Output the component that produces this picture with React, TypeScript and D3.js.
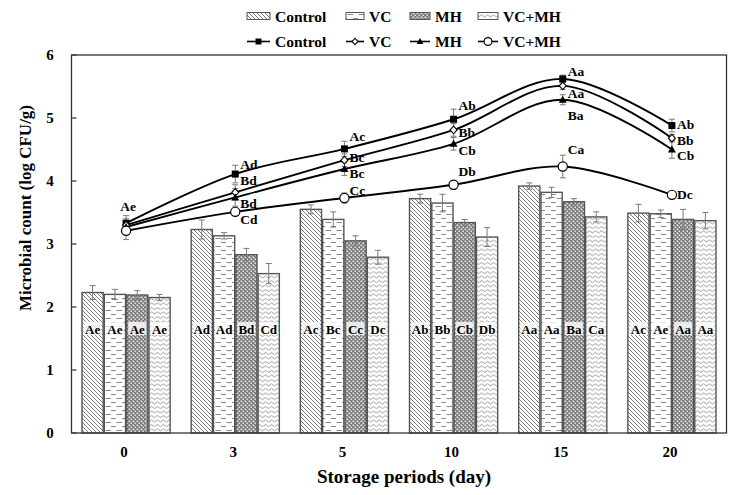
import React from "react";
import * as d3 from "d3";

// storage days and treatments
const days = ["0", "3", "5", "10", "15", "20"];
const treatments = ["Control", "VC", "MH", "VC+MH"];

// bars (left scale, log CFU/g)
const barControl = [2.23, 3.23, 3.55, 3.72, 3.92, 3.49];
const barVC = [2.2, 3.13, 3.39, 3.65, 3.82, 3.48];
const barMH = [2.19, 2.83, 3.05, 3.34, 3.67, 3.39];
const barVCMH = [2.15, 2.53, 2.79, 3.11, 3.43, 3.37];

const barErrControl = [0.11, 0.15, 0.07, 0.07, 0.05, 0.14];
const barErrVC = [0.08, 0.05, 0.12, 0.14, 0.08, 0.06];
const barErrMH = [0.07, 0.1, 0.08, 0.05, 0.05, 0.16];
const barErrVCMH = [0.05, 0.16, 0.11, 0.15, 0.08, 0.13];

const barLabControl = ["Ae", "Ad", "Ac", "Ab", "Aa", "Ac"];
const barLabVC = ["Ae", "Ad", "Bc", "Bb", "Aa", "Ae"];
const barLabMH = ["Ae", "Bd", "Cc", "Cb", "Ba", "Aa"];
const barLabVCMH = ["Ae", "Cd", "Dc", "Db", "Ca", "Aa"];

// lines
const lineControl = [3.33, 4.11, 4.51, 4.98, 5.62, 4.88];
const lineVC = [3.3, 3.82, 4.33, 4.81, 5.51, 4.68];
const lineMH = [3.27, 3.74, 4.19, 4.59, 5.29, 4.5];
const lineVCMH = [3.21, 3.51, 3.73, 3.94, 4.23, 3.78];

const lineErrControl = [0.12, 0.14, 0.12, 0.16, 0.06, 0.1];
const lineErrVC = [0.1, 0.12, 0.1, 0.1, 0.06, 0.06];
const lineErrMH = [0.1, 0.14, 0.1, 0.1, 0.08, 0.14];
const lineErrVCMH = [0.14, 0.06, 0.08, 0.07, 0.18, 0.05];

const lineLabControl = ["Ae", "Ad", "Ac", "Ab", "Aa", "Ab"];
const lineLabVC = ["", "Bd", "Bc", "Bb", "Aa", "Bb"];
const lineLabMH = ["", "Bd", "Bc", "Cb", "Ba", "Cb"];
const lineLabVCMH = ["", "Cd", "Cc", "Db", "Ca", "Dc"];

const yTicks = [0, 1, 2, 3, 4, 5, 6];

// label nudges (px) so letters don't sit on the curves
const labelDy = [
  [-17, -10, -12, -14, -7, -1],
  [0, -12, -3, 3, 8, 2],
  [0, 6, 4, 7, 16, 6],
  [0, 8, -8, -13, -17, 0],
];

const W = 736;
const H = 495;
const margin = { top: 55, right: 9.5, bottom: 62, left: 71.5 };
const FONT = '"Liberation Serif", "Times New Roman", Times, serif';

const bars = [
  { vals: barControl, err: barErrControl, labs: barLabControl, fill: "url(#pHatch)" },
  { vals: barVC, err: barErrVC, labs: barLabVC, fill: "url(#pDash)" },
  { vals: barMH, err: barErrMH, labs: barLabMH, fill: "url(#pDots)" },
  { vals: barVCMH, err: barErrVCMH, labs: barLabVCMH, fill: "url(#pWave)" },
];
const lines = [
  { vals: lineControl, err: lineErrControl, labs: lineLabControl },
  { vals: lineVC, err: lineErrVC, labs: lineLabVC },
  { vals: lineMH, err: lineErrMH, labs: lineLabMH },
  { vals: lineVCMH, err: lineErrVCMH, labs: lineLabVCMH },
];

const Marker = ({ i, x, y, s = 1 }: { i: number; x: number; y: number; s?: number }) => {
  if (i === 0) return <rect x={x - 3.5 * s} y={y - 3.5 * s} width={7 * s} height={7 * s} fill="#000" />;
  if (i === 1)
    return (
      <path
        d={`M${x},${y - 3.8 * s}L${x + 3.5 * s},${y}L${x},${y + 3.8 * s}L${x - 3.5 * s},${y}Z`}
        fill="#fff"
        stroke="#000"
        strokeWidth={1.1}
      />
    );
  if (i === 2)
    return <path d={`M${x},${y - 4 * s}L${x + 4 * s},${y + 3 * s}L${x - 4 * s},${y + 3 * s}Z`} fill="#000" />;
  return <circle cx={x} cy={y} r={4.6 * s} fill="#fff" stroke="#000" strokeWidth={1.2} />;
};

export default function App() {
  const x = d3
    .scaleBand()
    .domain(days)
    .range([margin.left, W - margin.right]);
  const inner = d3
    .scaleBand()
    .domain(treatments)
    .range([10.5, x.bandwidth() - 10.5])
    .paddingInner(0.05);
  const y = d3
    .scaleLinear()
    .domain([0, 6])
    .range([H - margin.bottom, margin.top]);

  const cx = (d: string) => (x(d) as number) + x.bandwidth() / 2;
  const line = d3
    .line<number>()
    .x((_, k) => cx(days[k]))
    .y((v) => y(v))
    .curve(d3.curveCatmullRom.alpha(0.5));

  const errBar = (px: number, v: number, e: number, key: string, cap = 3) => (
    <g key={key} stroke="#7a7a7a" strokeWidth={1}>
      <line x1={px} x2={px} y1={y(v - e)} y2={y(v + e)} />
      <line x1={px - cap} x2={px + cap} y1={y(v + e)} y2={y(v + e)} />
      <line x1={px - cap} x2={px + cap} y1={y(v - e)} y2={y(v - e)} />
    </g>
  );

  const legendX = [247, 346, 410, 478];
  const legendW = [23, 18, 20, 20];

  return (
    <svg
      width={W}
      height={H}
      style={{ position: "absolute", left: 0, top: 0, background: "#fff", fontFamily: FONT, fontWeight: 700 }}
    >
      <defs>
        <pattern id="pHatch" patternUnits="userSpaceOnUse" width={4} height={4}>
          <rect width={4} height={4} fill="#fff" />
          <path d="M-1,-1L5,5M-1,3L1,5M3,-1L5,1" stroke="#7d7d7d" strokeWidth={1} />
        </pattern>
        <pattern id="pDash" patternUnits="userSpaceOnUse" width={11} height={8}>
          <rect width={11} height={8} fill="#fff" />
          <path d="M1,2.5h5M6.5,6.5h4.5M0,6.5h1" stroke="#8a8a8a" strokeWidth={1} />
        </pattern>
        <pattern id="pDots" patternUnits="userSpaceOnUse" width={4} height={4}>
          <rect width={4} height={4} fill="#7c7c7c" />
          <rect x={0.5} y={0.5} width={1.8} height={1.6} fill="#e6e6e6" />
          <rect x={2.5} y={2.5} width={1.8} height={1.6} fill="#e6e6e6" />
        </pattern>
        <pattern id="pWave" patternUnits="userSpaceOnUse" width={6} height={4.5}>
          <rect width={6} height={4.5} fill="#fff" />
          <path d="M0,2.5q1.5,-2 3,0t3,0" fill="none" stroke="#8a8a8a" strokeWidth={0.9} />
        </pattern>
      </defs>

      {/* legend */}
      {treatments.map((t, i) => (
        <g key={"lg" + t}>
          <rect
            x={legendX[i]}
            y={12.5}
            width={legendW[i]}
            height={7}
            fill={bars[i].fill}
            stroke="#555"
            strokeWidth={1}
          />
          <text x={legendX[i] + legendW[i] + 5} y={21.5} fontSize={15.5}>
            {t}
          </text>
          <line
            x1={legendX[i]}
            x2={legendX[i] + legendW[i]}
            y1={41.5}
            y2={41.5}
            stroke="#000"
            strokeWidth={1.6}
          />
          <Marker i={i} x={legendX[i] + legendW[i] / 2} y={41.5} s={0.85} />
          <text x={legendX[i] + legendW[i] + 5} y={47} fontSize={15.5}>
            {t}
          </text>
        </g>
      ))}

      {/* bars */}
      {bars.map((s, i) =>
        days.map((d, k) => {
          const bx = (x(d) as number) + (inner(treatments[i]) as number);
          return (
            <rect
              key={`b${i}-${k}`}
              x={bx}
              y={y(s.vals[k])}
              width={inner.bandwidth()}
              height={y(0) - y(s.vals[k])}
              fill={s.fill}
              stroke="#555"
              strokeWidth={1.4}
            />
          );
        })
      )}
      {bars.map((s, i) =>
        days.map((d, k) => {
          const bx = (x(d) as number) + (inner(treatments[i]) as number) + inner.bandwidth() / 2;
          return errBar(bx, s.vals[k], s.err[k], `be${i}-${k}`);
        })
      )}
      {bars.map((s, i) =>
        days.map((d, k) => {
          const bx = (x(d) as number) + (inner(treatments[i]) as number) + inner.bandwidth() / 2;
          return (
            <g key={`bl${i}-${k}`}>
              <rect x={bx - 9} y={y(1.65) - 7} width={18} height={13} fill="#fff" opacity={0.8} />
              <text x={bx} y={y(1.65) + 4.5} fontSize={13} textAnchor="middle">
                {s.labs[k]}
              </text>
            </g>
          );
        })
      )}

      {/* frame and y axis */}
      <rect
        x={margin.left}
        y={margin.top}
        width={W - margin.left - margin.right}
        height={H - margin.top - margin.bottom}
        fill="none"
        stroke="#333"
        strokeWidth={1.3}
      />
      {yTicks.map((t) => (
        <g key={"yt" + t}>
          <line x1={margin.left} x2={margin.left + 5} y1={y(t)} y2={y(t)} stroke="#333" strokeWidth={1.2} />
          <text x={50} y={y(t) + 5} fontSize={15} textAnchor="middle">
            {t}
          </text>
        </g>
      ))}
      {days.map((d) => (
        <text key={"xt" + d} x={cx(d) - 2} y={457} fontSize={15} textAnchor="middle">
          {d}
        </text>
      ))}

      {/* lines */}
      {lines.map((s, i) => (
        <path key={"ln" + i} d={line(s.vals) || ""} fill="none" stroke="#000" strokeWidth={1.9} />
      ))}
      {lines.map((s, i) => days.map((d, k) => errBar(cx(d), s.vals[k], s.err[k], `le${i}-${k}`)))}
      {lines.map((s, i) =>
        days.map((d, k) => <Marker key={`m${i}-${k}`} i={i} x={cx(d)} y={y(s.vals[k])} />)
      )}
      {lines.map((s, i) =>
        days.map((d, k) =>
          s.labs[k] ? (
            <text
              key={`ll${i}-${k}`}
              x={k === 0 ? cx(d) + 2 : cx(d) + 5}
              y={y(s.vals[k]) + labelDy[i][k] + 4.5}
              fontSize={13.5}
              textAnchor={k === 0 ? "middle" : "start"}
            >
              {s.labs[k]}
            </text>
          ) : null
        )
      )}

      {/* axis titles */}
      <text x={404} y={483} fontSize={19} textAnchor="middle">
        Storage periods (day)
      </text>
      <text transform="translate(31,208) rotate(-90)" fontSize={17} textAnchor="middle">
        Microbial count (log CFU/g)
      </text>
    </svg>
  );
}
